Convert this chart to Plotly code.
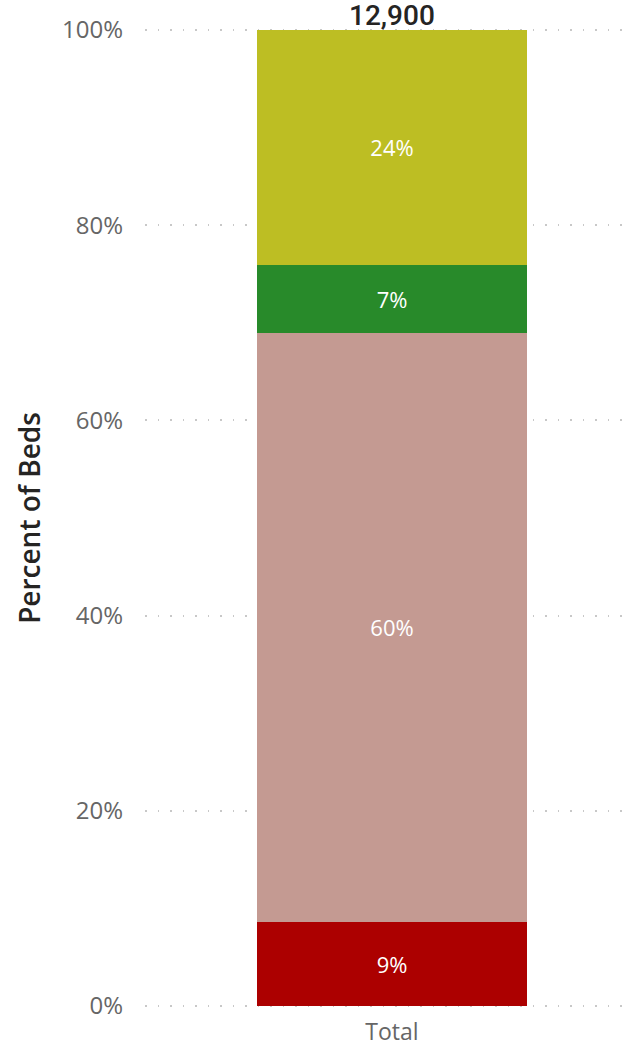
import plotly.graph_objects as go

categories = ["Total"]
segment_names = ["Red", "Rose", "Green", "Olive"]
segment_beds = [1110, 7790, 900, 3100]
segment_colors = ["#AC0000", "#C49A92", "#288A2A", "#BDBE23"]
tick_vals = [0, 20, 40, 60, 80, 100]
tick_text = ["0%", "20%", "40%", "60%", "80%", "100%"]

total = sum(segment_beds)
fig = go.Figure()
for name, beds, color in zip(segment_names, segment_beds, segment_colors):
    pct = beds / total * 100
    fig.add_trace(go.Bar(
        x=categories, y=[pct], name=name,
        marker=dict(color=color, line=dict(width=0)),
        width=0.5625,
        text=[f"{round(pct)}%"], textposition="inside", insidetextanchor="middle",
        textfont=dict(color="white", size=22, family="Open Sans"),
        textangle=0,
    ))

fig.add_annotation(x=categories[0], y=100, text=f"{total:,}", showarrow=False,
                   yanchor="bottom", yshift=-4,
                   font=dict(size=28, color="#252423", family="Roboto", weight=500))

fig.update_layout(
    barmode="stack", showlegend=False,
    width=633, height=1046,
    margin=dict(l=145, r=8, t=28, b=38, autoexpand=False),
    plot_bgcolor="white", paper_bgcolor="white",
    xaxis=dict(range=[-0.5146, 0.4854], showgrid=False, showline=False, zeroline=False,
               tickfont=dict(size=23, color="#666666", family="Open Sans"), ticks="",
               ticklabelstandoff=8),
    yaxis=dict(range=[-0.2, 100.2], tickvals=tick_vals, ticktext=tick_text,
               showgrid=True, gridcolor="#C8C8C8", gridwidth=1.5, griddash="1.5px,11px",
               zeroline=False, showline=False, ticks="",
               tickfont=dict(size=24, color="#666666", family="Open Sans"),
               ticklabelstandoff=21,
               title=dict(text="Percent of Beds", standoff=13,
                          font=dict(size=28, color="#252423", family="Open Sans", weight=600))),
)
fig.write_html("out.html", config={"displayModeBar": False},
               post_script="document.body.style.margin='0px';")
